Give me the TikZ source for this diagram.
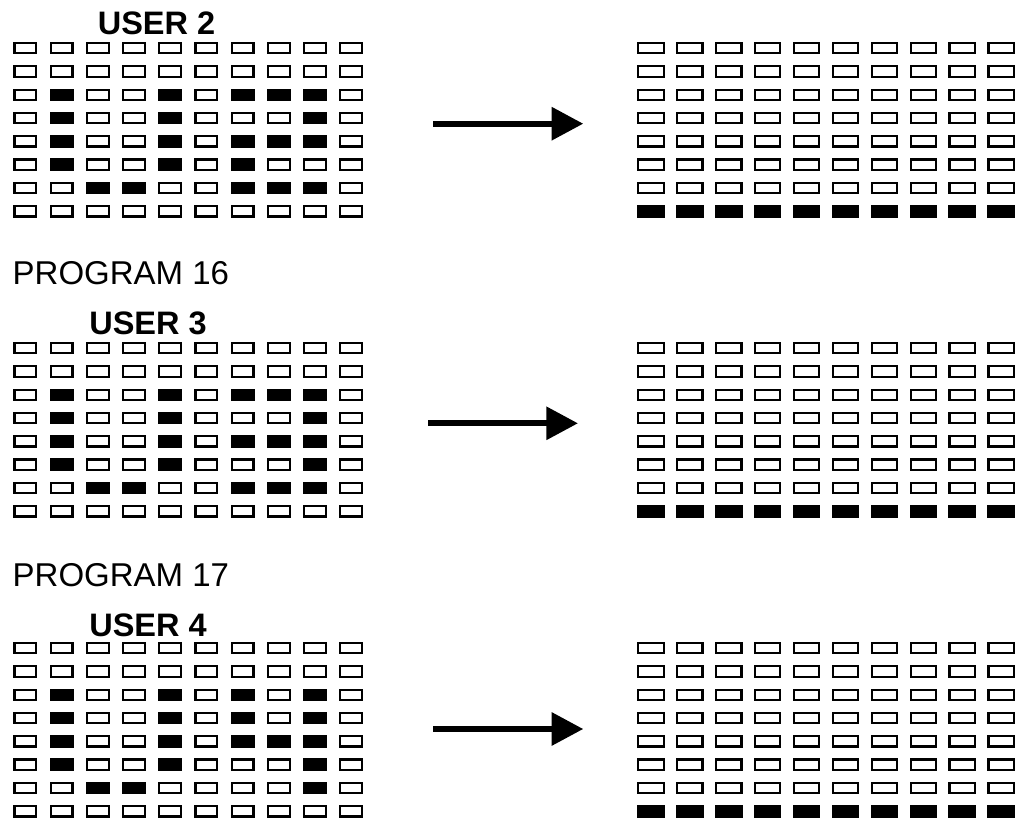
\documentclass[tikz,border=0pt]{standalone}
\usepackage{fontspec}
\setmainfont{Liberation Sans}
\usetikzlibrary{arrows.meta}
\tikzset{
  ledbox/.style={
    draw, line width=2.2pt, inner sep=0pt,
    minimum width=21.8pt, minimum height=10.3pt
  },
  ledboxwide/.style={ledbox, minimum width=25.3pt},
  led0/.style={fill=white},
  led1/.style={fill=black},
  progarrow/.style={-{Triangle[length=31.6pt,width=32pt]}, line width=6pt},
  userlabel/.style={font=\fontsize{32.5}{38}\selectfont\bfseries, inner sep=0pt, anchor=base},
  proglabel/.style={font=\fontsize{33}{38}\selectfont, inner sep=0pt, anchor=base west},
}
% rows of the left panels, 1 = lit
\newcommand\usertworows{{0,0,0,0,0,0,0,0,0,0},{0,0,0,0,0,0,0,0,0,0},{0,1,0,0,1,0,1,1,1,0},{0,1,0,0,1,0,0,0,1,0},{0,1,0,0,1,0,1,1,1,0},{0,1,0,0,1,0,1,0,0,0},{0,0,1,1,0,0,1,1,1,0},{0,0,0,0,0,0,0,0,0,0}}
\newcommand\userthreerows{{0,0,0,0,0,0,0,0,0,0},{0,0,0,0,0,0,0,0,0,0},{0,1,0,0,1,0,1,1,1,0},{0,1,0,0,1,0,0,0,1,0},{0,1,0,0,1,0,1,1,1,0},{0,1,0,0,1,0,0,0,1,0},{0,0,1,1,0,0,1,1,1,0},{0,0,0,0,0,0,0,0,0,0}}
\newcommand\userfourrows{{0,0,0,0,0,0,0,0,0,0},{0,0,0,0,0,0,0,0,0,0},{0,1,0,0,1,0,1,0,1,0},{0,1,0,0,1,0,1,0,1,0},{0,1,0,0,1,0,1,1,1,0},{0,1,0,0,1,0,0,0,1,0},{0,0,1,1,0,0,0,0,1,0},{0,0,0,0,0,0,0,0,0,0}}

\begin{document}
\begin{tikzpicture}[x=1pt, y=-1pt]
  \useasboundingbox (0,0) rectangle (1026,826);

  % Labels
  \node[userlabel] (user2) at (156.5,34.3) {USER 2};
  \node[proglabel] (prog16) at (12.5,285) {PROGRAM 16};
  \node[userlabel] (user3) at (148,335) {USER 3};
  \node[proglabel] (prog17) at (12.5,586) {PROGRAM 17};
  \node[userlabel] (user4) at (148,636) {USER 4};

  % Left panels
  \foreach \row [count=\r] in \usertworows {
    \foreach \b [count=\c] in \row {
      \node[ledbox, led\b] (ua-\r-\c) at ({25.3+36.2*(\c-1)}, {48.2+23.3*(\r-1)}) {};
    }
  }
  \foreach \row [count=\r] in \userthreerows {
    \foreach \b [count=\c] in \row {
      \node[ledbox, led\b] (ub-\r-\c) at ({25.3+36.2*(\c-1)}, {348.2+23.3*(\r-1)}) {};
    }
  }
  \foreach \row [count=\r] in \userfourrows {
    \foreach \b [count=\c] in \row {
      \node[ledbox, led\b] (uc-\r-\c) at ({25.3+36.2*(\c-1)}, {648.2+23.3*(\r-1)}) {};
    }
  }

  % Right panels, bottom row lit
  \foreach \g in {0,1,2} {
    \foreach \r in {1,...,8} {
      \pgfmathtruncatemacro\b{\r==8}
      \foreach \c in {1,...,10} {
        \node[ledboxwide, led\b] (res\g-\r-\c) at ({651+38.9*(\c-1)}, {48.2+300*\g+23.3*(\r-1)}) {};
      }
    }
  }

  % Arrows
  \coordinate (a1s) at (433,123.7);
  \coordinate (a1e) at (583.3,123.7);
  \coordinate (a2s) at (428,423.3);
  \coordinate (a2e) at (578,423.3);
  \coordinate (a3s) at (433,729);
  \coordinate (a3e) at (583.3,729);
  \draw[progarrow] (a1s) -- (a1e);
  \draw[progarrow] (a2s) -- (a2e);
  \draw[progarrow] (a3s) -- (a3e);
\end{tikzpicture}
\end{document}
